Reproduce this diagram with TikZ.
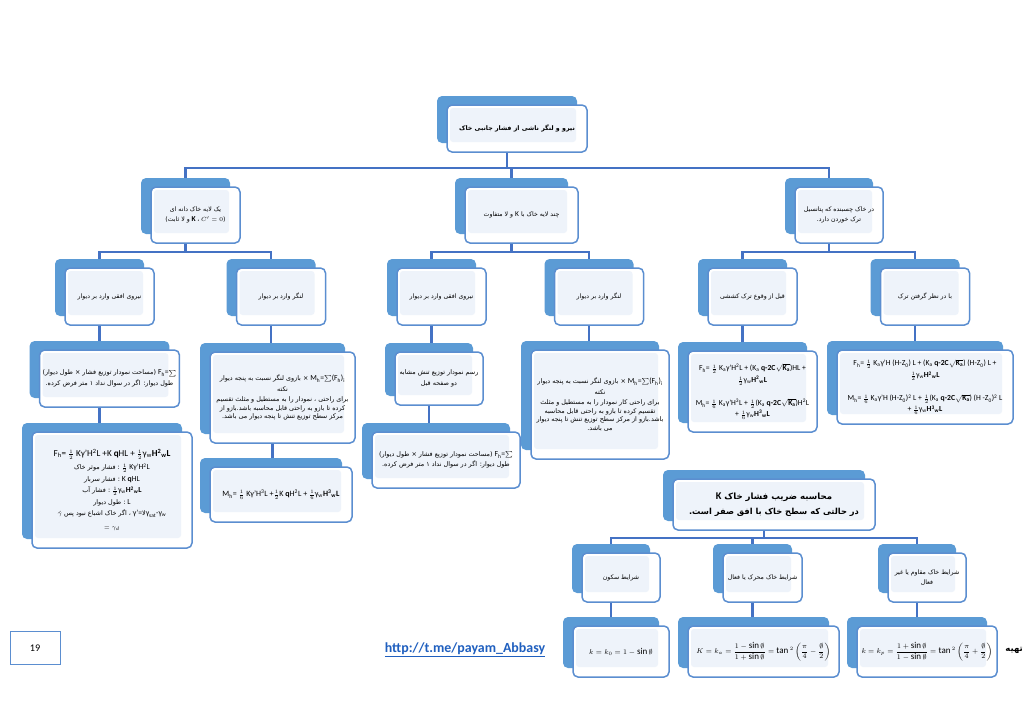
\documentclass[tikz,border=0pt]{standalone}
\usepackage{fontspec}
\usepackage{amsmath,amssymb}
\setmainfont{Carlito}[Scale=1.2]
\newfontfamily\fa[Script=Arabic]{DejaVu Sans}
\TeXXeTstate=1
\usetikzlibrary{shadows,backgrounds}
\definecolor{cardblue}{HTML}{5B9BD5}
\definecolor{cardedge}{HTML}{5B8ED0}
\definecolor{cardtint}{HTML}{EEF3FA}
\definecolor{linkblue}{HTML}{4472C4}
\definecolor{urlblue}{HTML}{1F5FBF}
\newcommand\fatxt[1]{\beginR#1\endR}
\newcommand\lat[1]{\beginL{\rmfamily #1}\endL}
\newcommand\sub[1]{\textsubscript{#1}}
\newcommand\sups[1]{\textsuperscript{#1}}
\newcommand\rka{$\sqrt{\mathbf{K_a}}$}

\begin{document}
\begin{tikzpicture}[
    x=1pt, y=-1pt,
    card/.style={draw=cardedge, line width=1.5pt, fill=white, rounded corners=5pt,
      align=center, inner sep=3pt,
      general shadow={fill=cardblue, shadow xshift=-10pt, shadow yshift=9pt},
      path picture={\fill[cardtint, rounded corners=3pt]
        ([xshift=3pt,yshift=10pt]path picture bounding box.south west) rectangle
        ([xshift=-11pt,yshift=-3pt]path picture bounding box.north east);},
      font=\fa\fontsize{6.2}{10}\selectfont},
    unit/.style={card, minimum width=89pt, minimum height=57pt},
    note/.style={card, font=\fa\fontsize{6.4}{10.5}\selectfont},
    formula/.style={card, font=\fontsize{6.4}{13}\selectfont},
    link/.style={draw=linkblue, line width=2.5pt}
    ]
    \useasboundingbox (0,0) rectangle (1024,724);

    % footer, partly hidden by the cards
    \node[draw=cardedge, line width=0.6pt, minimum width=50pt, minimum height=33pt,
      font=\fontsize{8.5}{10}\selectfont] (page) at (35,648) {19};
    \node[text=urlblue, font=\bfseries\fontsize{11.6}{14}\selectfont] (url) at (465,650)
      {\underline{http://t.me/payam\_Abbasy}};
    \node[anchor=east, inner sep=0pt, font=\fa\bfseries\fontsize{8.5}{10}\selectfont] (maker) at (1023,650) {\fatxt{تهیه}};

    % root
    \node[card, minimum width=140pt, minimum height=47pt,
      font=\fa\bfseries\fontsize{6.3}{9}\selectfont] (root) at (517,128.5)
      {\fatxt{نیرو و لنگر ناشی از فشار جانبی خاک}};

    % soil cases
    \node[unit, minimum height=56pt] (grain) at (195.5,215)
      {\fatxt{یک لایه خاک دانه ای}\\ \fatxt{(\lat{\textbf{K} {\fa ،} $C'=0$} و لا ثابت)}};
    \node[unit, minimum width=113pt, minimum height=56pt] (layers) at (521.5,215)
      {\fatxt{چند لایه خاک با \lat{K} و لا متفاوت}};
    \node[unit, minimum width=88pt, minimum height=56pt] (cohesive) at (839,215)
      {\fatxt{در خاک چسبنده که پتانسیل}\\ \fatxt{ترک خوردن دارد.}};

    % force / moment
    \node[unit] (forceA) at (109.5,296.5) {\fatxt{نیروی افقی وارد بر دیوار}};
    \node[unit] (momentA) at (281,296.5) {\fatxt{لنگر وارد بر دیوار}};
    \node[unit] (forceB) at (441.5,296.5) {\fatxt{نیروی افقی وارد بر دیوار}};
    \node[unit] (momentB) at (599,296.5) {\fatxt{لنگر وارد بر دیوار}};
    \node[unit] (beforeC) at (752.5,296.5) {\fatxt{قبل از وقوع ترک کششی}};
    \node[unit] (withC) at (925,296.5) {\fatxt{با در نظر گرفتن ترک}};

    % details
    \node[note, minimum width=136pt, minimum height=57pt] (forceA1) at (109.5,378.5)
      {\fatxt{\lat{F\sub{h}=$\sum$} (مساحت نمودار توزیع فشار × طول دیوار)}\\
       \fatxt{طول دیوار: اگر در سوال نداد ۱ متر فرض کرده.}};
    \node[note, minimum width=160pt, minimum height=116pt, font=\fa\fontsize{6.4}{11.5}\selectfont] (forceA2) at (112,490)
      {\lat{\fontsize{7.6}{12}\selectfont F\sub{h}= $\frac{1}{2}$ Kγ'H\sups{2}L +K \textbf{q}HL + $\frac{1}{2}$γ\sub{w}\textbf{H\sups{2}\sub{w}L}}\\[2pt]
       \fatxt{\lat{$\frac{1}{2}$ Kγ'H\sups{2}L} : فشار موثر خاک}\\
       \fatxt{\lat{K \textbf{q}HL} : فشار سربار}\\
       \fatxt{\lat{$\frac{1}{2}$γ\sub{w}\textbf{H\sups{2}\sub{w}L}} : فشار آب}\\
       \fatxt{\lat{L} : طول دیوار}\\
       \fatxt{\lat{γ'={\fa لا}γ\sub{sat}-γ\sub{w}} ، اگر خاک اشباع نبود پس \lat{$\acute{\gamma}$}}\\[2pt]
       \lat{$=\gamma_d$}};
    \node[note, minimum width=145pt, minimum height=91pt] (momentA1) at (282.5,397.5)
      {\fatxt{\lat{M\sub{h}=$\sum$(F\sub{h})\sub{i}} × بازوی لنگر نسبت به پنجه دیوار}\\
       \fatxt{نکته}\\
       \fatxt{برای راحتی ، نمودار را به مستطیل و مثلث تقسیم}\\[-2pt]
       \fatxt{کرده تا بازو به راحتی قابل محاسبه باشد.بازو از}\\[-2pt]
       \fatxt{مرکز سطح توزیع تنش تا پنجه دیوار می باشد.}};
    \node[formula, minimum width=142pt, minimum height=55pt, font=\fontsize{6.7}{10}\selectfont] (momentA2) at (281,494.5)
      {M\sub{h}= $\frac{1}{6}$ Kγ'H\sups{3}L +$\frac{1}{2}$K \textbf{q}H\sups{2}L + $\frac{1}{6}$γ\sub{w}\textbf{H\sups{3}\sub{w}L}};
    \node[note, minimum width=88pt, minimum height=53pt] (forceB1) at (439,378.5)
      {\fatxt{رسم نمودار توزیع تنش مشابه}\\ \fatxt{دو صفحه قبل}};
    \node[note, minimum width=148pt, minimum height=56pt] (forceB2) at (446,460)
      {\fatxt{\lat{F\sub{h}=$\sum$} (مساحت نمودار توزیع فشار × طول دیوار)}\\
       \fatxt{طول دیوار: اگر در سوال نداد ۱ متر فرض کرده.}};
    \node[note, minimum width=138pt, minimum height=109pt] (momentB1) at (600,404.5)
      {\fatxt{\lat{M\sub{h}=$\sum$(F\sub{h})\sub{i}} × بازوی لنگر نسبت به پنجه دیوار}\\
       \fatxt{نکته}\\
       \fatxt{برای راحتی کار نمودار را به مستطیل و مثلث}\\[-2pt]
       \fatxt{تقسیم کرده تا بازو به راحتی قابل محاسبه}\\[-2pt]
       \fatxt{باشد.بازو از مرکز سطح توزیع تنش تا پنجه دیوار}\\[-2pt]
       \fatxt{می باشد.}};
    \node[formula, minimum width=129pt, minimum height=81pt] (beforeC1) at (752.5,391.5)
      {F\sub{h}= $\frac{1}{2}$ K\sub{a}γ'H\sups{2}L + (K\sub{a} \textbf{q-2C}\rka)HL +\\[-1pt]
       $\frac{1}{2}$γ\sub{w}\textbf{H\sups{2}\sub{w}L}\\[10pt]
       M\sub{h}= $\frac{1}{6}$ K\sub{a}γ'H\sups{3}L + $\frac{1}{2}$(K\sub{a} \textbf{q-2C}\rka)H\sups{2}L\\[-2pt]
       + $\frac{1}{6}$γ\sub{w}\textbf{H\sups{3}\sub{w}L}};
    \node[formula, minimum width=176pt, minimum height=74pt] (withC1) at (925,387)
      {F\sub{h}= $\frac{1}{2}$ K\sub{a}γ'H (H-Z\sub{0}) L + (K\sub{a} \textbf{q-2C}\rka) (H-Z\sub{0}) L +\\[-1pt]
       $\frac{1}{2}$γ\sub{w}\textbf{H\sups{2}\sub{w}L}\\[10pt]
       M\sub{h}= $\frac{1}{6}$ K\sub{a}γ'H (H-Z\sub{0})\sups{2} L + $\frac{1}{2}$(K\sub{a} \textbf{q-2C}\rka) (H -Z\sub{0})\sups{2} L\\[-2pt]
       + $\frac{1}{6}$γ\sub{w}\textbf{H\sups{3}\sub{w}L}};

    % earth pressure coefficient
    \node[card, minimum width=202pt, minimum height=51pt,
      font=\fa\bfseries\fontsize{8.3}{13}\selectfont] (kcoef) at (774,504.5)
      {{\fontsize{8.6}{13}\selectfont\fatxt{محاسبه ضریب فشار خاک \lat{K}}}\\[2pt]
       \fatxt{در حالتی که سطح خاک با افق صفر است.}};
    \node[unit, minimum width=78pt, minimum height=49pt] (rest) at (621,577.5) {\fatxt{شرایط سکون}};
    \node[unit, minimum width=79pt, minimum height=49pt] (active) at (762.5,577.5)
      {\fatxt{شرایط خاک محرک یا فعال}};
    \node[unit, minimum width=78pt, minimum height=49pt] (passive) at (927,577.5)
      {\fatxt{شرایط خاک مقاوم یا غیر}\\ \fatxt{فعال}};
    \node[formula, minimum width=96pt, minimum height=51pt, font=\fontsize{7.5}{9}\selectfont] (restK) at (621,651.5)
      {$k=k_0=1-\sin\emptyset$};
    \node[formula, minimum width=151pt, minimum height=51pt, font=\fontsize{7.5}{9}\selectfont] (activeK) at (763.5,651.5)
      {$K=k_a=\dfrac{1-\sin\emptyset}{1+\sin\emptyset}=\tan{}^2\left(\dfrac{\pi}{4}-\dfrac{\emptyset}{2}\right)$};
    \node[formula, minimum width=140pt, minimum height=51pt, font=\fontsize{7.5}{9}\selectfont] (passiveK) at (927,651.5)
      {$k=k_p=\dfrac{1+\sin\emptyset}{1-\sin\emptyset}=\tan{}^2\left(\dfrac{\pi}{4}+\dfrac{\emptyset}{2}\right)$};

    % connectors, behind the cards
    \begin{scope}[on background layer]
      \fill[white] (0,0) rectangle (1024,724);
      \foreach \kid in {grain,layers,cohesive}
        \draw[link] ([xshift=-10pt]root.center) -- ([xshift=-10pt]root.center |- 0,168)
          -| ([xshift=-10pt]\kid.center);
      \foreach \up/\kid in {grain/forceA, grain/momentA, layers/forceB, layers/momentB,
          cohesive/beforeC, cohesive/withC}
        \draw[link] ([xshift=-10pt]\up.center) -- ([xshift=-10pt]\up.center |- 0,252)
          -| ([xshift=-10pt]\kid.center);
      \foreach \up/\kid in {forceA/forceA1, forceA1/forceA2, momentA/momentA1,
          momentA1/momentA2, forceB/forceB1, forceB1/forceB2, momentB/momentB1,
          beforeC/beforeC1, withC/withC1, rest/restK, active/activeK, passive/passiveK}
        \draw[link] ([xshift=-10pt]\up.center) -- ([xshift=-10pt]\up.center |- \kid.center);
      \foreach \kid in {rest,active,passive}
        \draw[link] ([xshift=-10pt]kcoef.center) -- ([xshift=-10pt]kcoef.center |- 0,538)
          -| ([xshift=-10pt]\kid.center);
    \end{scope}
\end{tikzpicture}
\end{document}
